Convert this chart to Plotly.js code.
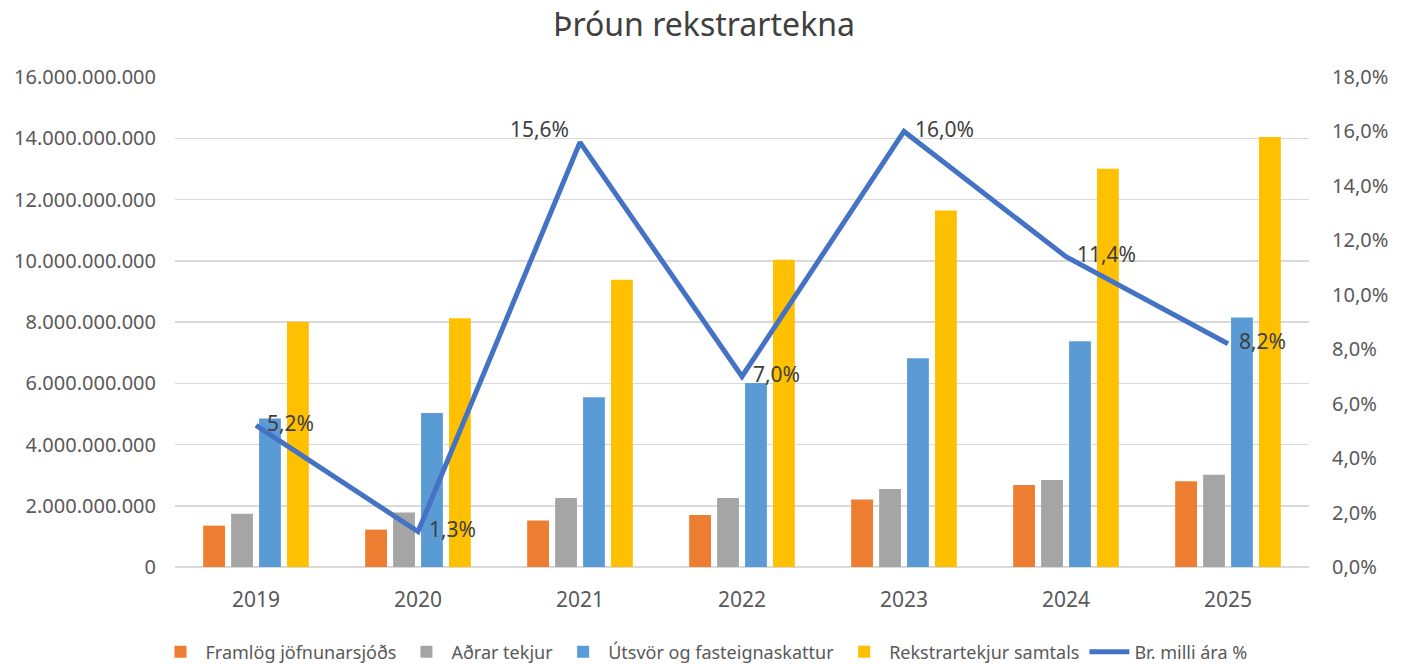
<!DOCTYPE html>
<html>
<head>
<meta charset="utf-8">
<script src="https://cdn.plot.ly/plotly-3.0.1.min.js"></script>
<style>html,body{margin:0;padding:0;background:#fff;}#chart{width:1408px;height:664px;}</style>
</head>
<body>
<div id="chart"></div>
<script>
const years = ['2019','2020','2021','2022','2023','2024','2025'];
const framlog = [1.35e9, 1.22e9, 1.52e9, 1.70e9, 2.20e9, 2.68e9, 2.80e9];
const adrarTekjur = [1.74e9, 1.78e9, 2.25e9, 2.25e9, 2.55e9, 2.84e9, 3.01e9];
const utsvor = [4.85e9, 5.03e9, 5.54e9, 6.01e9, 6.82e9, 7.37e9, 8.15e9];
const rekstrartekjur = [8.01e9, 8.12e9, 9.38e9, 10.03e9, 11.64e9, 13.00e9, 14.04e9];
const breyting = [0.052, 0.013, 0.156, 0.070, 0.160, 0.114, 0.082];
const labelPos = ['middle right','middle right','top left','middle right','middle right','middle right','middle right'];

const font = 'Noto Sans, Open Sans, sans-serif';
const tickColor = '#595959';
const sp = '\u00a0\u00a0';
const labelTemplates = labelPos.map(p => p.indexOf('left') >= 0 ? '%{y:.1%}' + sp : sp + '%{y:.1%}');

const traces = [
  {type:'bar', name:'Framlög jöfnunarsjóðs', x:years, y:framlog, marker:{color:'#ED7D31'}},
  {type:'bar', name:'Aðrar tekjur', x:years, y:adrarTekjur, marker:{color:'#A5A5A5'}},
  {type:'bar', name:'Útsvör og fasteignaskattur', x:years, y:utsvor, marker:{color:'#5B9BD5'}},
  {type:'bar', name:'Rekstrartekjur samtals', x:years, y:rekstrartekjur, marker:{color:'#FFC000'}},
  {type:'scatter', mode:'lines+text', name:'Br. milli ára %', x:years, y:breyting, yaxis:'y2',
   line:{color:'#4472C4', width:5}, texttemplate:labelTemplates, textposition:labelPos,
   textfont:{family:font, size:21, color:'#404040'}, cliponaxis:false}
];

const layout = {
  width:1408, height:664,
  separators:',.',
  font:{family:font, color:tickColor},
  paper_bgcolor:'#fff', plot_bgcolor:'#fff',
  margin:{l:175, r:99, t:77, b:97},
  title:{text:'Þróun rekstrartekna', font:{family:font, size:32, color:'#404040'}, x:0.5, xanchor:'center', y:0.962, yanchor:'middle'},
  barmode:'group', bargap:0.31, bargroupgap:0.22,
  xaxis:{type:'category', tickfont:{size:21, color:tickColor}, showgrid:false, showline:false, ticks:'', ticklen:0, ticklabelstandoff:18},
  yaxis:{range:[0,16e9], dtick:2e9, tickformat:',d', tickfont:{size:20, color:tickColor},
    gridcolor:'#D9D9D9', gridwidth:1.5, zeroline:true, zerolinecolor:'#D9D9D9', zerolinewidth:1.5, showline:false, ticks:'', ticklen:0, ticklabelstandoff:18, automargin:false},
  yaxis2:{range:[0,0.18], dtick:0.02, tickformat:'.1%', overlaying:'y', side:'right', showgrid:false, zeroline:false,
    tickfont:{size:20, color:tickColor}, showline:false, ticks:'', ticklabelstandoff:22, automargin:false},
  legend:{orientation:'h', x:0.5, xanchor:'center', xref:'container', y:0.018, yref:'container', yanchor:'middle',
    font:{family:font, size:18, color:tickColor}, itemwidth:40, traceorder:'normal'},
  showlegend:true
};

Plotly.newPlot('chart', traces, layout, {displayModeBar:false, staticPlot:true});
</script>
</body>
</html>
